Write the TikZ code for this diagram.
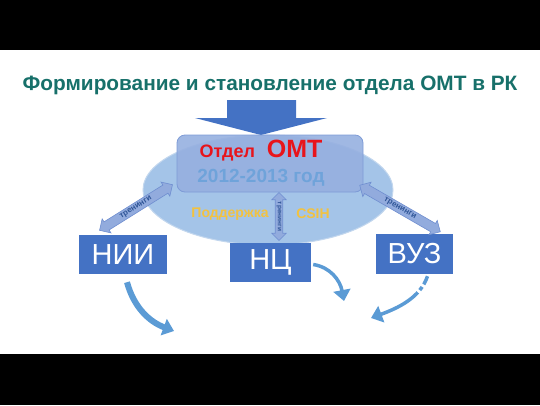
\documentclass[tikz,border=0pt]{standalone}
\usepackage{fontspec}
\setmainfont{Liberation Sans}
\usetikzlibrary{shapes.arrows,shapes.geometric,arrows.meta}
\definecolor{titleteal}{HTML}{17706A}
\definecolor{boxblue}{HTML}{4472C4}
\definecolor{ovalfill}{HTML}{A4C4E8}
\definecolor{ovaledge}{HTML}{C3D7EE}
\definecolor{deptfill}{HTML}{96B0E0}
\definecolor{deptedge}{HTML}{7E9BD6}
\definecolor{omtred}{HTML}{E8141B}
\definecolor{yearblue}{HTML}{6FA3DA}
\definecolor{supgold}{HTML}{F2C240}
\definecolor{linkfill}{HTML}{92ABDD}
\definecolor{linkedge}{HTML}{6F8ED0}
\definecolor{linktext}{HTML}{2F5597}
\definecolor{flowblue}{HTML}{5B9BD5}
\begin{document}
\begin{tikzpicture}
    [x=1pt,y=-1pt,
    block/.style={fill=boxblue,text=white,inner sep=0pt,
      font=\fontsize{29}{29}\selectfont},
    link/.style={double arrow,draw=linkedge,fill=linkfill,text=linktext,
      inner sep=1.5pt,double arrow head extend=3.5pt,line width=0.6pt,
      font=\fontsize{8}{8}\selectfont\bfseries},
    flow/.style={flowblue,line width=5pt,
      -{Triangle[width=17pt,length=11pt]}}]
  \useasboundingbox (0,0) rectangle (540,405);
  \fill[black] (0,0) rectangle (540,50);
  \fill[black] (0,354) rectangle (540,405);
  % title
  \node[text=titleteal,font=\fontsize{20.8}{21}\selectfont\bfseries]
    (title) at (270,85) {Формирование и становление отдела ОМТ в РК};
  % oval and department
  \node[ellipse,draw=ovaledge,fill=ovalfill,line width=1pt,
    minimum width=250pt,minimum height=110pt] (oval) at (268,190) {};
  \fill[boxblue] (227,100) -- (296,100) -- (296,118) -- (327,118)
    -- (261,135) -- (195,118) -- (227,118) -- cycle;
  \node[draw=deptedge,fill=deptfill,fill opacity=0.9,rounded corners=8pt,
    line width=0.8pt,minimum width=186pt,minimum height=57pt]
    (dept) at (270,163.5) {};
  \node[text=omtred,font=\fontsize{18}{18}\selectfont\bfseries]
    (deptname) at (261,151) {Отдел\hspace{12pt}\fontsize{25}{25}\selectfont ОМТ};
  \node[text=yearblue,font=\fontsize{19}{19}\selectfont\bfseries]
    (year) at (261,178) {2012-2013 год};
  \node[text=supgold,font=\fontsize{14}{14}\selectfont\bfseries]
    (support) at (230,214) {Поддержка};
  \node[text=supgold,font=\fontsize{14}{14}\selectfont\bfseries]
    (csih) at (313,214) {CSIH};
  % partners
  \node[block,minimum width=88pt,minimum height=39pt] (nii) at (123,254.5) {НИИ};
  \node[block,minimum width=81pt,minimum height=39pt] (nc) at (270.5,262.5) {НЦ};
  \node[block,minimum width=77pt,minimum height=40pt] (vuz) at (414.5,254) {ВУЗ};
  % trainings
  \node[link,minimum height=86pt,rotate=32]
    (leftlink) at (136,207.5) {тренинги};
  \node[link,minimum height=93pt,rotate=-30]
    (rightlink) at (400,208.5) {тренинги};
  \node[link,minimum height=48pt,rotate=-90,inner sep=1pt,
    font=\fontsize{6.5}{6.5}\selectfont\bfseries]
    (midlink) at (279,216.5) {тренинги};
  % flows
  \coordinate (niiend) at (174,331);
  \coordinate (ncend) at (344,301);
  \coordinate (vuzend) at (371,318);
  \draw[flow,line width=6pt] ([xshift=4pt,yshift=-8pt]nii.south)
    .. controls (134,308) and (150,322) .. (niiend);
  \draw[flow,line width=3.5pt] ([xshift=2pt,yshift=-2pt]nc.east)
    .. controls (330,267) and (340,280) .. (ncend);
  \draw[flow,line width=3.5pt,dash pattern=on 9pt off 3pt on 4pt off 3pt on 60pt]
    ([xshift=13pt,yshift=-2pt]vuz.south)
    .. controls (420,298) and (398,308) .. (vuzend);
\end{tikzpicture}
\end{document}
